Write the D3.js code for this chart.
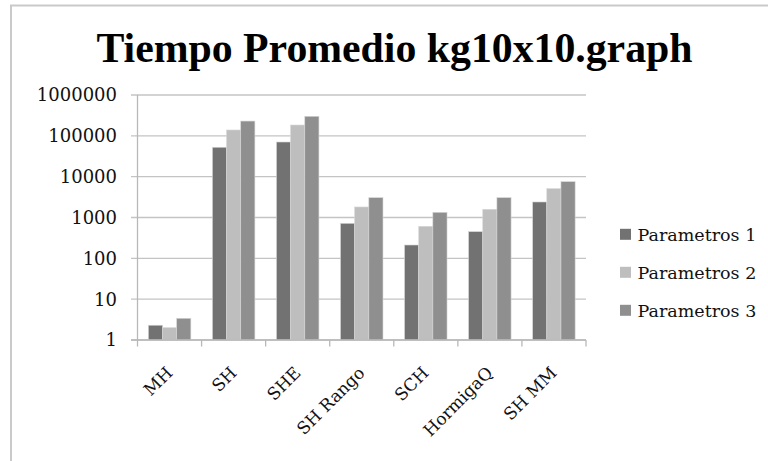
<!DOCTYPE html>
<html>
<head>
<meta charset="utf-8">
<script src="https://cdn.jsdelivr.net/npm/d3@7"></script>
<style>
  html, body { margin: 0; padding: 0; background: #fff; }
  svg { display: block; }
</style>
</head>
<body>
<svg id="chart" width="768" height="461"></svg>
<script>
// data (log scale, so values are estimates)
const categories = ["MH", "SH", "SHE", "SH Rango", "SCH", "HormigaQ", "SH MM"];
const seriesNames = ["Parametros 1", "Parametros 2", "Parametros 3"];
const parametros1 = [2.3, 52500, 70600, 720, 212, 450, 2400];
const parametros2 = [2.0, 139000, 184000, 1810, 608, 1585, 5080];
const parametros3 = [3.4, 230000, 301000, 3060, 1340, 3060, 7540];
const yTicks = [1, 10, 100, 1000, 10000, 100000, 1000000];

const seriesColors = ["#727272", "#bebebe", "#8f8f8f"];

const svg = d3.select("#chart");
const width = 768, height = 461;
const margin = { left: 137.5, right: 182, top: 95, bottom: 121 };

// chart frame (only left and top edges fall inside the picture)
svg.append("path")
  .attr("d", `M11,${height} L11,5.5 L${width},5.5`)
  .attr("fill", "none")
  .attr("stroke", "#cacaca")
  .attr("stroke-width", 2);

// title
svg.append("text")
  .attr("x", 394.5)
  .attr("y", 62)
  .attr("text-anchor", "middle")
  .attr("font-family", "'Liberation Serif', serif")
  .attr("font-weight", "bold")
  .attr("font-size", 41.5)
  .attr("textLength", 596)
  .attr("lengthAdjust", "spacingAndGlyphs")
  .attr("fill", "#000")
  .text("Tiempo Promedio kg10x10.graph");

const x0 = d3.scaleBand()
  .domain(categories)
  .range([margin.left, width - margin.right])
  .paddingInner(0.337)
  .paddingOuter(0.17);

const x1 = d3.scaleBand()
  .domain(seriesNames)
  .range([0, x0.bandwidth()]);

const y = d3.scaleLog()
  .domain([1, 1000000])
  .range([height - margin.bottom, margin.top]);

// gridlines
svg.append("g")
  .selectAll("line")
  .data(yTicks)
  .join("line")
  .attr("x1", margin.left - 6.5)
  .attr("x2", width - margin.right)
  .attr("y1", (d) => y(d))
  .attr("y2", (d) => y(d))
  .attr("stroke", "#c4c4c4")
  .attr("stroke-width", 1.3);

// y axis line
svg.append("line")
  .attr("x1", margin.left).attr("x2", margin.left)
  .attr("y1", margin.top).attr("y2", height - margin.bottom)
  .attr("stroke", "#b8b8b8")
  .attr("stroke-width", 1.3);

// y tick labels
svg.append("g")
  .selectAll("text")
  .data(yTicks)
  .join("text")
  .attr("x", 117)
  .attr("y", (d) => y(d))
  .attr("dy", "0.36em")
  .attr("text-anchor", "end")
  .attr("font-family", "'DejaVu Serif', serif")
  .attr("font-size", 18)
  .attr("fill", "#111")
  .text((d) => d);

// x axis with category ticks
const xStep = (width - margin.right - margin.left) / categories.length;
const xTickPos = d3.range(categories.length + 1).map((i) => margin.left + i * xStep);
svg.append("g")
  .selectAll("line")
  .data(xTickPos)
  .join("line")
  .attr("x1", (d) => d).attr("x2", (d) => d)
  .attr("y1", y(1)).attr("y2", y(1) + 6.5)
  .attr("stroke", "#b8b8b8")
  .attr("stroke-width", 1.3);

// bars
const seriesData = [parametros1, parametros2, parametros3];
const groups = svg.append("g")
  .selectAll("g")
  .data(categories)
  .join("g")
  .attr("transform", (d) => `translate(${x0(d)},0)`);

groups.selectAll("rect")
  .data((d, i) => seriesNames.map((s, k) => ({ series: s, k, value: seriesData[k][i] })))
  .join("rect")
  .attr("x", (d) => x1(d.series))
  .attr("width", x1.bandwidth())
  .attr("y", (d) => y(d.value))
  .attr("height", (d) => y(1) - y(d.value))
  .attr("fill", (d) => seriesColors[d.k])
  .attr("stroke", "#d6d6d6")
  .attr("stroke-width", 0.6);

// baseline over the bars
svg.append("line")
  .attr("x1", margin.left - 6.5).attr("x2", width - margin.right)
  .attr("y1", y(1)).attr("y2", y(1))
  .attr("stroke", "#b8b8b8")
  .attr("stroke-width", 1.3);

// rotated category labels
svg.append("g")
  .selectAll("text")
  .data(categories)
  .join("text")
  .attr("transform", (d) => `translate(${x0(d) + x0.bandwidth() / 2 + 4},374) rotate(-45)`)
  .attr("text-anchor", "end")
  .attr("font-family", "'DejaVu Serif', serif")
  .attr("font-size", 17)
  .attr("fill", "#111")
  .text((d) => d);

// legend
const legend = svg.append("g")
  .selectAll("g")
  .data(seriesNames)
  .join("g")
  .attr("transform", (d, i) => `translate(620,${234.3 + i * 38})`);

legend.append("rect")
  .attr("x", 0).attr("y", -5.5)
  .attr("width", 11).attr("height", 11)
  .attr("fill", (d, i) => seriesColors[i]);

legend.append("text")
  .attr("x", 17.5)
  .attr("y", 0)
  .attr("dy", "0.36em")
  .attr("font-family", "'DejaVu Serif', serif")
  .attr("font-size", 17.5)
  .attr("fill", "#111")
  .text((d) => d);
</script>
</body>
</html>
